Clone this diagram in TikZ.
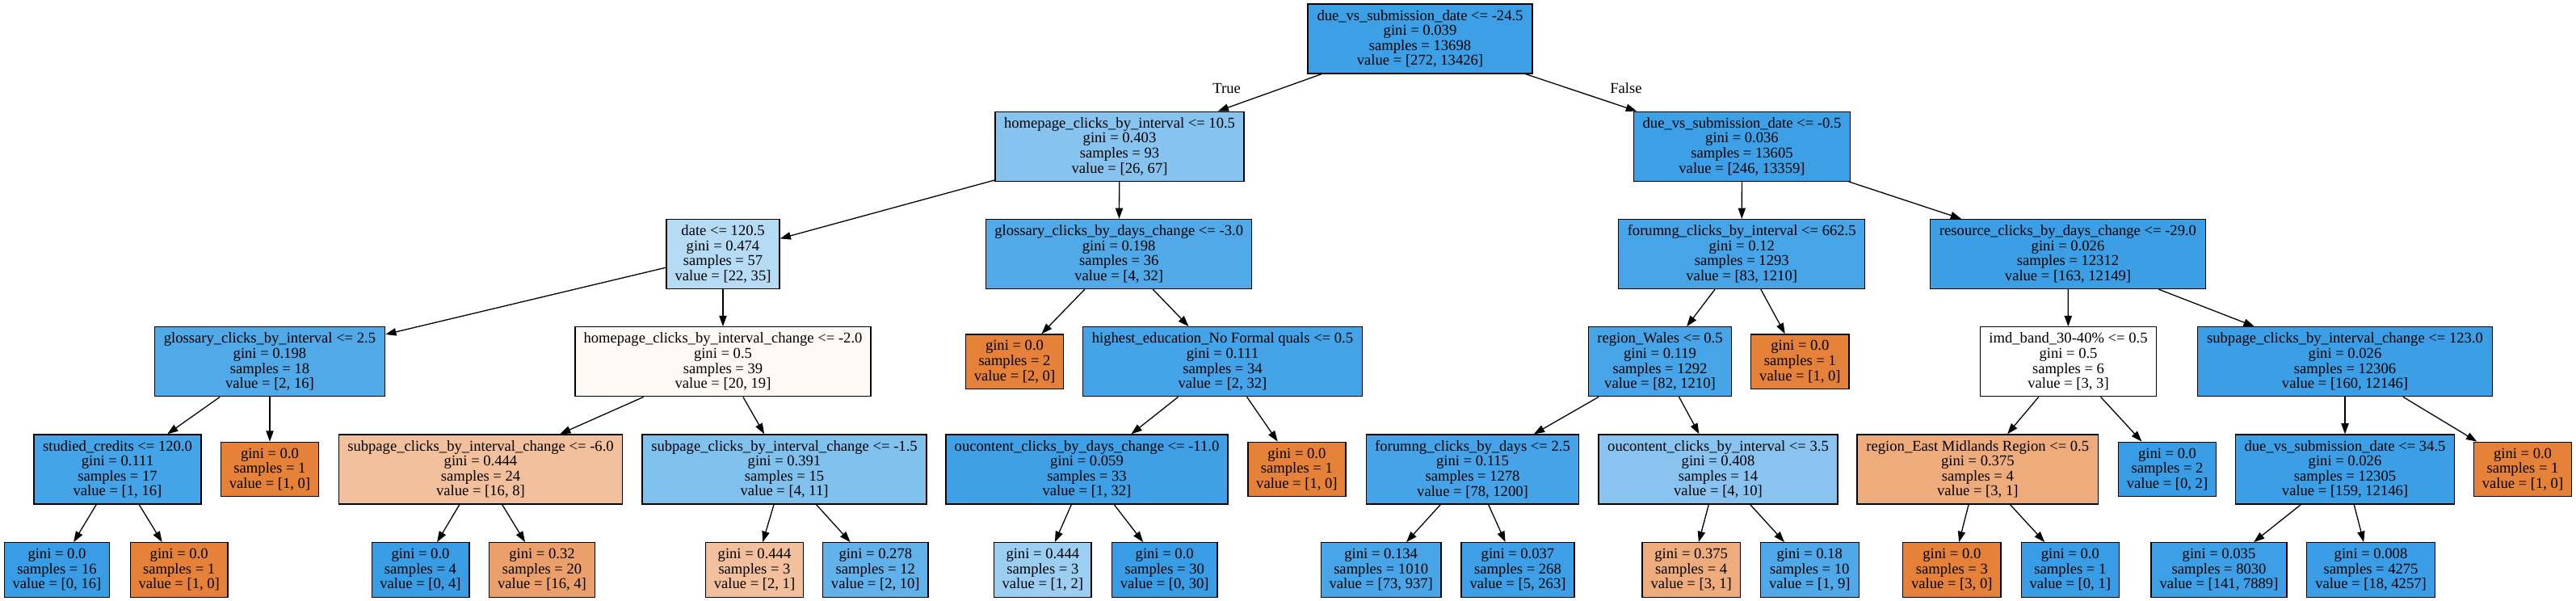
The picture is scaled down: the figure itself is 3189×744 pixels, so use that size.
\documentclass[tikz,border=0pt]{standalone}
\usepackage{fontspec}
\setmainfont{Liberation Serif}
\usetikzlibrary{arrows.meta}
\definecolor{cB}{RGB}{57,157,229}
\definecolor{cO}{RGB}{229,129,57}
\begin{document}
\begin{tikzpicture}[x=1pt,y=-1pt,
  box/.style={draw=black, line width=1.3pt, rectangle, inner sep=0pt, align=center,
    font=\fontsize{18.6}{18.6}\selectfont, minimum height=86pt},
  leafbox/.style={box, minimum height=67.5pt},
  lbl/.style={inner sep=0pt, font=\fontsize{18.6}{18.6}\selectfont},
  edge/.style={line width=1.3pt, -{Triangle[length=13.3pt,width=9.3pt]}}]
\useasboundingbox (0,0) rectangle (3189,744);
% level 1
\node[box, minimum width=278pt, fill=cB!98!white] (n1) at (1758,48) {due\_vs\_submission\_date <= -24.5\\gini = 0.039\\samples = 13698\\value = [272, 13426]};
% level 2
\node[box, minimum width=308pt, fill=cB!61.2!white] (n2) at (1386,181.25) {homepage\_clicks\_by\_interval <= 10.5\\gini = 0.403\\samples = 93\\value = [26, 67]};
\node[box, minimum width=268pt, fill=cB!98.2!white] (n3) at (2156.5,181.25) {due\_vs\_submission\_date <= -0.5\\gini = 0.036\\samples = 13605\\value = [246, 13359]};
% level 3
\node[box, minimum width=140pt, fill=cB!37.1!white] (n4) at (895,314.5) {date <= 120.5\\gini = 0.474\\samples = 57\\value = [22, 35]};
\node[box, minimum width=329pt, fill=cB!87.5!white] (n5) at (1385.2,314.5) {glossary\_clicks\_by\_days\_change <= -3.0\\gini = 0.198\\samples = 36\\value = [4, 32]};
\node[box, minimum width=305pt, fill=cB!93.1!white] (n6) at (2156.2,314.5) {forumng\_clicks\_by\_interval <= 662.5\\gini = 0.12\\samples = 1293\\value = [83, 1210]};
\node[box, minimum width=341pt, fill=cB!98.7!white] (n7) at (2560,314.5) {resource\_clicks\_by\_days\_change <= -29.0\\gini = 0.026\\samples = 12312\\value = [163, 12149]};
% level 4
\node[box, minimum width=285pt, fill=cB!87.5!white] (n8) at (334,447.75) {glossary\_clicks\_by\_interval <= 2.5\\gini = 0.198\\samples = 18\\value = [2, 16]};
\node[box, minimum width=366pt, fill=cO!5!white] (n9) at (895,447.75) {homepage\_clicks\_by\_interval\_change <= -2.0\\gini = 0.5\\samples = 39\\value = [20, 19]};
\node[leafbox, minimum width=121.4pt, fill=cO] (n10) at (1256,447.75) {gini = 0.0\\samples = 2\\value = [2, 0]};
\node[box, minimum width=346pt, fill=cB!93.75!white] (n11) at (1513.5,447.75) {highest\_education\_No Formal quals <= 0.5\\gini = 0.111\\samples = 34\\value = [2, 32]};
\node[box, minimum width=177pt, fill=cB!93.2!white] (n12) at (2055,447.75) {region\_Wales <= 0.5\\gini = 0.119\\samples = 1292\\value = [82, 1210]};
\node[leafbox, minimum width=121.4pt, fill=cO] (n13) at (2228.4,447.75) {gini = 0.0\\samples = 1\\value = [1, 0]};
\node[box, minimum width=218pt, fill=white] (n14) at (2560.5,447.75) {imd\_band\_30-40\% <= 0.5\\gini = 0.5\\samples = 6\\value = [3, 3]};
\node[box, minimum width=365pt, fill=cB!98.7!white] (n15) at (2903,447.75) {subpage\_clicks\_by\_interval\_change <= 123.0\\gini = 0.026\\samples = 12306\\value = [160, 12146]};
% level 5
\node[box, minimum width=207pt, fill=cB!93.75!white] (n16) at (145.5,581) {studied\_credits <= 120.0\\gini = 0.111\\samples = 17\\value = [1, 16]};
\node[leafbox, minimum width=120.6pt, fill=cO] (n17) at (334,581) {gini = 0.0\\samples = 1\\value = [1, 0]};
\node[box, minimum width=351.5pt, fill=cO!50!white] (n18) at (595,581) {subpage\_clicks\_by\_interval\_change <= -6.0\\gini = 0.444\\samples = 24\\value = [16, 8]};
\node[box, minimum width=352pt, fill=cB!63.6!white] (n19) at (971,581) {subpage\_clicks\_by\_interval\_change <= -1.5\\gini = 0.391\\samples = 15\\value = [4, 11]};
\node[box, minimum width=349pt, fill=cB!96.9!white] (n20) at (1345.5,581) {oucontent\_clicks\_by\_days\_change <= -11.0\\gini = 0.059\\samples = 33\\value = [1, 32]};
\node[leafbox, minimum width=121pt, fill=cO] (n21) at (1605.4,581) {gini = 0.0\\samples = 1\\value = [1, 0]};
\node[box, minimum width=263pt, fill=cB!93.5!white] (n22) at (1823,581) {forumng\_clicks\_by\_days <= 2.5\\gini = 0.115\\samples = 1278\\value = [78, 1200]};
\node[box, minimum width=296pt, fill=cB!60!white] (n23) at (2127,581) {oucontent\_clicks\_by\_interval <= 3.5\\gini = 0.408\\samples = 14\\value = [4, 10]};
\node[box, minimum width=298.6pt, fill=cO!66.7!white] (n24) at (2448.3,581) {region\_East Midlands Region <= 0.5\\gini = 0.375\\samples = 4\\value = [3, 1]};
\node[leafbox, minimum width=121.3pt, fill=cB] (n25) at (2683,581) {gini = 0.0\\samples = 2\\value = [0, 2]};
\node[box, minimum width=271.4pt, fill=cB!98.7!white] (n26) at (2903,581) {due\_vs\_submission\_date <= 34.5\\gini = 0.026\\samples = 12305\\value = [159, 12146]};
\node[leafbox, minimum width=121.3pt, fill=cO] (n27) at (3123,581) {gini = 0.0\\samples = 1\\value = [1, 0]};
% level 6
\node[leafbox, minimum width=130pt, fill=cB] (n28) at (70.5,705.5) {gini = 0.0\\samples = 16\\value = [0, 16]};
\node[leafbox, minimum width=120.7pt, fill=cO] (n29) at (221.7,705.5) {gini = 0.0\\samples = 1\\value = [1, 0]};
\node[leafbox, minimum width=120.7pt, fill=cB] (n30) at (520.5,705.5) {gini = 0.0\\samples = 4\\value = [0, 4]};
\node[leafbox, minimum width=131pt, fill=cO!75!white] (n31) at (671,705.5) {gini = 0.32\\samples = 20\\value = [16, 4]};
\node[leafbox, minimum width=121.3pt, fill=cO!50!white] (n32) at (934,705.5) {gini = 0.444\\samples = 3\\value = [2, 1]};
\node[leafbox, minimum width=130.4pt, fill=cB!80!white] (n33) at (1083.8,705.5) {gini = 0.278\\samples = 12\\value = [2, 10]};
\node[leafbox, minimum width=120.5pt, fill=cB!50!white] (n34) at (1290.8,705.5) {gini = 0.444\\samples = 3\\value = [1, 2]};
\node[leafbox, minimum width=130.6pt, fill=cB] (n35) at (1441.7,705.5) {gini = 0.0\\samples = 30\\value = [0, 30]};
\node[leafbox, minimum width=148.7pt, fill=cB!92.2!white] (n36) at (1709.7,705.5) {gini = 0.134\\samples = 1010\\value = [73, 937]};
\node[leafbox, minimum width=140pt, fill=cB!98.1!white] (n37) at (1879,705.5) {gini = 0.037\\samples = 268\\value = [5, 263]};
\node[leafbox, minimum width=121.5pt, fill=cO!66.7!white] (n38) at (2093.7,705.5) {gini = 0.375\\samples = 4\\value = [3, 1]};
\node[leafbox, minimum width=122pt, fill=cB!88.9!white] (n39) at (2240.3,705.5) {gini = 0.18\\samples = 10\\value = [1, 9]};
\node[leafbox, minimum width=121.5pt, fill=cO] (n40) at (2416.3,705.5) {gini = 0.0\\samples = 3\\value = [3, 0]};
\node[leafbox, minimum width=121.2pt, fill=cB] (n41) at (2562.8,705.5) {gini = 0.0\\samples = 1\\value = [0, 1]};
\node[leafbox, minimum width=168pt, fill=cB!98.2!white] (n42) at (2747,705.5) {gini = 0.035\\samples = 8030\\value = [141, 7889]};
\node[leafbox, minimum width=158.5pt, fill=cB!99.6!white] (n43) at (2935,705.5) {gini = 0.008\\samples = 4275\\value = [18, 4257]};
% edge labels
\node[lbl] (lt) at (1518.6,109) {True};
\node[lbl] (lf) at (2013,109) {False};
% edges
\foreach \a/\b in {n1/n2,n1/n3,n2/n4,n2/n5,n3/n6,n3/n7,n4/n8,n4/n9,n5/n10,n5/n11,
  n6/n12,n6/n13,n7/n14,n7/n15,n8/n16,n8/n17,n9/n18,n9/n19,n11/n20,n11/n21,
  n12/n22,n12/n23,n14/n24,n14/n25,n15/n26,n15/n27,n16/n28,n16/n29,n18/n30,n18/n31,
  n19/n32,n19/n33,n20/n34,n20/n35,n22/n36,n22/n37,n23/n38,n23/n39,n24/n40,n24/n41,
  n26/n42,n26/n43}
  \draw[edge] (\a) -- (\b);
\end{tikzpicture}
\end{document}
